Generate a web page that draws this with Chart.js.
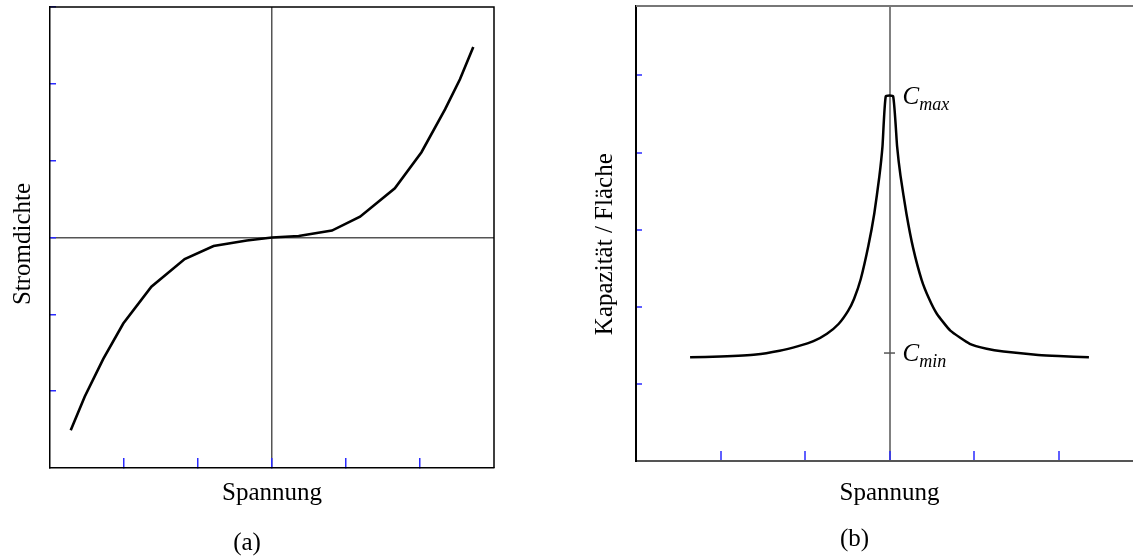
<!DOCTYPE html>
<html lang="de">
<head>
<meta charset="utf-8">
<title>Stromdichte und Kapazität über Spannung</title>
<script src="https://cdn.jsdelivr.net/npm/chart.js@4.4.1/dist/chart.umd.min.js"></script>
<style>
  html, body { margin: 0; padding: 0; background: #fff; overflow: hidden; }
  #wrap { position: relative; width: 1133px; height: 559px; overflow: hidden; }
  canvas { position: absolute; top: 0; }
  #chartA { left: 0; }
  #chartB { left: 566px; }
</style>
</head>
<body>
<div id="wrap">
  <canvas id="chartA" width="566" height="559"></canvas>
  <canvas id="chartB" width="600" height="559"></canvas>
</div>
<script>
// (a) Strom-Spannungs-Kennlinie, beide Achsen in Teilstrichen (-3 … 3)
const spannungA = [-2.72, -2.53, -2.28, -2.01, -1.63, -1.18, -0.79, -0.34, 0, 0.36, 0.81, 1.19, 1.66, 2.02, 2.34, 2.54, 2.72];
const stromdichte = [-2.51, -2.07, -1.58, -1.12, -0.64, -0.28, -0.11, -0.04, 0, 0.02, 0.09, 0.27, 0.64, 1.11, 1.67, 2.06, 2.48];

// (b) Kapazität pro Fläche über Spannung
const spannungB = [-2.36, -2.0, -1.58, -1.3, -1.08, -0.9, -0.74, -0.6, -0.49, -0.42, -0.34, -0.25, -0.18, -0.12, -0.083, -0.044,
                   0.043, 0.09, 0.13, 0.2, 0.28, 0.38, 0.47, 0.56, 0.72, 0.95, 1.15, 1.35, 1.76, 2.0, 2.36];
const kapazitaet = [1.345, 1.355, 1.38, 1.43, 1.49, 1.554, 1.65, 1.78, 1.946, 2.10, 2.36, 2.79, 3.21, 3.69, 4.08, 4.73,
                    4.73, 4.08, 3.70, 3.21, 2.76, 2.35, 2.10, 1.91, 1.69, 1.52, 1.456, 1.42, 1.375, 1.36, 1.345];
const cMax = 4.73;
const cMin = 1.40;

// Achsenbereiche
const xBereich = [-3, 3];
const yBereichA = [-3, 3];
const yBereichB = [0, 5.9];

Chart.defaults.font.family = '"Liberation Serif", "Times New Roman", serif';
Chart.defaults.color = '#000';

const TICK_BLAU = '#2a2aff';

// zieht die fehlenden Rahmenlinien (oben, optional rechts)
const rahmen = {
  id: 'rahmen',
  beforeDatasetsDraw(chart, args, opts) {
    const { ctx, chartArea: { left, top, right, bottom } } = chart;
    ctx.save();
    ctx.lineWidth = opts.width;
    ctx.strokeStyle = opts.color;
    ctx.beginPath();
    ctx.moveTo(left, top);
    ctx.lineTo(right, top);
    if (opts.rechts) ctx.lineTo(right, bottom);
    ctx.stroke();
    ctx.restore();
  }
};

// senkrechte y-Achsenbeschriftung, etwas unter der Mitte des Plotbereichs
const yTitel = {
  id: 'yTitel',
  afterDraw(chart, args, opts) {
    const { ctx, chartArea } = chart;
    ctx.save();
    ctx.translate(opts.x, (chartArea.top + chartArea.bottom) / 2 + opts.versatz);
    ctx.rotate(-Math.PI / 2);
    ctx.font = '25px "Liberation Serif"';
    ctx.textAlign = 'center';
    ctx.textBaseline = 'middle';
    ctx.fillStyle = '#000';
    ctx.fillText(opts.text, 0, 0);
    ctx.restore();
  }
};

// C_max / C_min Beschriftung an der Spannungsnull
const cMarken = {
  id: 'cMarken',
  afterDatasetsDraw(chart) {
    const { ctx, scales: { x, y } } = chart;
    const x0 = x.getPixelForValue(0);
    const yMin = y.getPixelForValue(cMin);
    ctx.save();
    ctx.strokeStyle = '#555';
    ctx.lineWidth = 1.5;
    ctx.beginPath();
    ctx.moveTo(x0 - 5.5, yMin);
    ctx.lineTo(x0 + 5.5, yMin);
    ctx.stroke();

    ctx.fillStyle = '#000';
    ctx.textBaseline = 'alphabetic';
    const marke = (wert, index) => {
      const py = y.getPixelForValue(wert);
      ctx.font = 'italic 25px "Liberation Serif"';
      ctx.fillText('C', x0 + 13, py + 7.5);
      const w = ctx.measureText('C').width;
      ctx.font = 'italic 18px "Liberation Serif"';
      ctx.fillText(index, x0 + 13 + w, py + 14);
    };
    marke(cMax, 'max');
    marke(cMin, 'min');
    ctx.restore();
  }
};

function skalen(opt) {
  return {
    x: {
      type: 'linear', min: xBereich[0], max: xBereich[1],
      ticks: { display: false, stepSize: 1 },
      grid: {
        color: c => c.tick && c.tick.value === 0 ? opt.nullFarbe : 'transparent',
        lineWidth: opt.nullBreite,
        tickColor: c => Math.abs(c.tick.value) === 3 ? 'transparent' : TICK_BLAU,
        tickLength: -10,
        tickWidth: 1.5
      },
      border: { color: opt.xRand, width: opt.randBreite },
      title: { display: true, text: 'Spannung', font: { size: 25 }, color: '#000',
               padding: { top: 0, bottom: opt.xTitelAbstand } },
      afterFit: s => { s.height = opt.xHoehe; }
    },
    y: {
      type: 'linear', min: opt.yBereich[0], max: opt.yBereich[1],
      ticks: { display: false, stepSize: 1, includeBounds: false },
      grid: {
        color: c => opt.yNull && c.tick && c.tick.value === 0 ? opt.nullFarbe : 'transparent',
        lineWidth: opt.nullBreite,
        tickColor: c => c.tick.value === opt.yBereich[0] ? 'transparent' : TICK_BLAU,
        tickLength: -6,
        tickWidth: 1.5
      },
      border: { color: '#000', width: opt.randBreite },
      afterFit: s => { s.width = opt.yBreite; }
    }
  };
}

new Chart(document.getElementById('chartA'), {
  type: 'line',
  data: {
    datasets: [{
      data: spannungA.map((v, i) => ({ x: v, y: stromdichte[i] })),
      borderColor: '#000',
      borderWidth: 2.6,
      pointRadius: 0,
      tension: 0
    }]
  },
  options: {
    responsive: false,
    animation: false,
    events: [],
    layout: { padding: { top: 7, right: 72, left: 0, bottom: 0 } },
    plugins: {
      legend: { display: false },
      tooltip: { enabled: false },
      title: { display: true, text: '(a)', position: 'bottom', font: { size: 25, weight: 'normal' },
               color: '#000', padding: { top: 10, bottom: 1 } },
      rahmen: { color: '#000', width: 1.5, rechts: true },
      yTitel: { text: 'Stromdichte', x: 23, versatz: 6.5 }
    },
    scales: skalen({
      yBereich: yBereichA, yNull: true,
      nullFarbe: '#555', nullBreite: 1.5, xRand: '#000', randBreite: 1.5,
      xHoehe: 50, xTitelAbstand: 10, yBreite: 50
    })
  },
  plugins: [rahmen, yTitel]
});

new Chart(document.getElementById('chartB'), {
  type: 'line',
  data: {
    datasets: [{
      data: spannungB.map((v, i) => ({ x: v, y: kapazitaet[i] })),
      borderColor: '#000',
      borderWidth: 2.5,
      pointRadius: 0,
      tension: 0.15
    }]
  },
  options: {
    responsive: false,
    animation: false,
    events: [],
    layout: { padding: { top: 6, right: 23, left: 0, bottom: 0 } },
    plugins: {
      legend: { display: false },
      tooltip: { enabled: false },
      title: { display: true, text: '(b)', position: 'bottom', font: { size: 25, weight: 'normal' },
               color: '#000', padding: { top: 6, bottom: 5 } },
      rahmen: { color: '#777', width: 2, rechts: false },
      yTitel: { text: 'Kapazität / Fläche', x: 39, versatz: 10.7 }
    },
    scales: skalen({
      yBereich: yBereichB, yNull: false,
      nullFarbe: '#808080', nullBreite: 2, xRand: '#555', randBreite: 2,
      xHoehe: 57, xTitelAbstand: 10, yBreite: 70
    })
  },
  plugins: [rahmen, yTitel, cMarken]
});
</script>
</body>
</html>
